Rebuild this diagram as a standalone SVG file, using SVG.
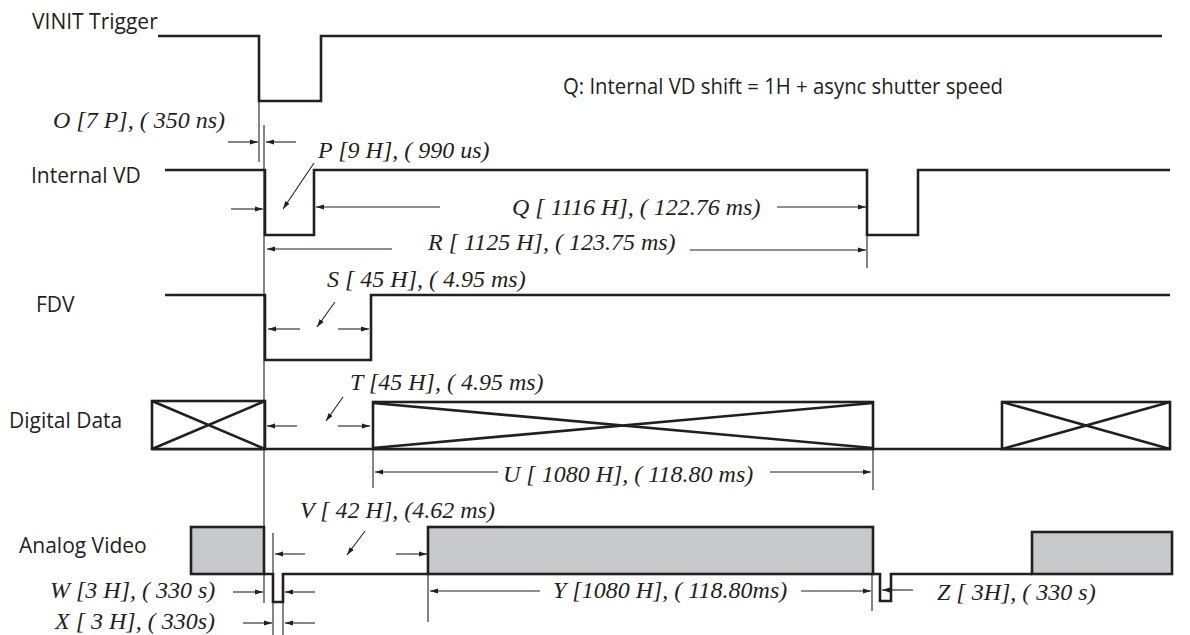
<svg xmlns="http://www.w3.org/2000/svg" width="1190" height="635" viewBox="0 0 1190 635">
<style>
.sig{fill:none;stroke:#231f20;stroke-width:2.6;stroke-linejoin:miter}
.box{fill:#fff;stroke:#231f20;stroke-width:2.6}
.gbox{fill:#c8c9cb;stroke:#231f20;stroke-width:2.6}
.ref{fill:none;stroke:#231f20;stroke-width:1.1}
.arr{fill:none;stroke:#231f20;stroke-width:1.1;marker-end:url(#ah)}
.lbl{font-family:"Open Sans","Noto Sans",sans-serif;font-size:21px;fill:#231f20}
.big{font-family:"Open Sans","Noto Sans",sans-serif;font-size:22.5px;fill:#231f20}
.tm{font-family:"Liberation Serif","Times New Roman",serif;font-style:italic;font-size:24px;fill:#231f20}
</style>
<defs>
<marker id="ah" markerWidth="9" markerHeight="6" refX="8" refY="3" orient="auto" markerUnits="userSpaceOnUse">
<path d="M0,0.5 L8,3 L0,5.5 z" fill="#231f20"/>
</marker>
</defs>

<g id="vinit">
<text class="lbl" x="32" y="29">VINIT Trigger</text>
<path class="sig" d="M158,36 H259 V101 H321 V36 H1162"/>
</g>
<text class="big" x="563" y="94" textLength="440" lengthAdjust="spacingAndGlyphs">Q: Internal VD shift = 1H + async shutter speed</text>

<g id="internal-vd">
<text class="lbl" x="31" y="183">Internal VD</text>
<path class="sig" d="M165,170 H265 V235 H314 V170 H867 V235 H918 V170 H1170"/>
</g>

<g id="fdv">
<text class="lbl" x="36" y="312">FDV</text>
<path class="sig" d="M165,295 H265 V360 H371 V295 H1170"/>
</g>

<g id="digital-data">
<text class="lbl" x="9" y="428">Digital Data</text>
<path class="sig" d="M152,449 H1170"/>
<rect class="box" x="152" y="401" width="113" height="48"/>
<path class="sig" d="M152,401 L265,449 M152,449 L265,401"/>
<rect class="box" x="373" y="402" width="500" height="47"/>
<path class="sig" d="M373,403 L873,448 M373,448 L873,403"/>
<rect class="box" x="1002" y="402" width="168" height="47"/>
<path class="sig" d="M1002,402 L1170,449 M1002,449 L1170,402"/>
</g>

<g id="analog-video">
<text class="lbl" x="19" y="553">Analog Video</text>
<rect class="gbox" x="191" y="527" width="73" height="47"/>
<path class="sig" d="M264,574 H273 V602 H283 V574 H428"/>
<rect class="gbox" x="428" y="527" width="445" height="47"/>
<path class="sig" d="M873,574 H880 V601 H891 V574 H1032"/>
<rect class="gbox" x="1032" y="532" width="140" height="42"/>
</g>

<g id="connectors">
<path class="ref" d="M259,101 V162 M264,125 V603 M867,235 V268 M373,449 V488 M873,449 V490 M273,533 V635 M283,600 V635 M428,574 V622 M872,574 V611"/>
<path class="arr" d="M228,142 H258"/>
<path class="arr" d="M296,142 H266"/>
<path class="arr" d="M231,209 H263"/>
<path class="arr" d="M314,163 L283,209"/>
<path class="arr" d="M440,207 H316"/>
<path class="arr" d="M777,207 H866"/>
<path class="arr" d="M392,249 H267"/>
<path class="arr" d="M690,250 H866"/>
<path class="arr" d="M300,329 H268"/>
<path class="arr" d="M338,329 H369"/>
<path class="arr" d="M335,302 L317,327"/>
<path class="arr" d="M297,426 H267"/>
<path class="arr" d="M338,426 H370"/>
<path class="arr" d="M343,397 L326,421"/>
<path class="arr" d="M498,472 H375"/>
<path class="arr" d="M770,472 H871"/>
<path class="arr" d="M305,554 H275"/>
<path class="arr" d="M396,554 H427"/>
<path class="arr" d="M365,531 L347,555"/>
<path class="arr" d="M233,592 H263"/>
<path class="arr" d="M315,592 H285"/>
<path class="arr" d="M243,623 H272"/>
<path class="arr" d="M315,623 H285"/>
<path class="arr" d="M540,591 H430"/>
<path class="arr" d="M801,591 H871"/>
<path class="arr" d="M913,590 H882"/>
</g>

<g id="labels">
<text class="tm" x="53" y="128">O [7 P], ( 350 ns)</text>
<text class="tm" x="318" y="158">P [9 H], ( 990 us)</text>
<text class="tm" x="512" y="215">Q [ 1116 H], ( 122.76 ms)</text>
<text class="tm" x="428" y="250">R [ 1125 H], ( 123.75 ms)</text>
<text class="tm" x="327" y="287">S [ 45 H], ( 4.95 ms)</text>
<text class="tm" x="350" y="390">T [45 H], ( 4.95 ms)</text>
<text class="tm" x="503" y="482">U [ 1080 H], ( 118.80 ms)</text>
<text class="tm" x="300" y="518">V [ 42 H], (4.62 ms)</text>
<text class="tm" x="50" y="598">W [3 H], ( 330 s)</text>
<text class="tm" x="55" y="629">X [ 3 H], ( 330s)</text>
<text class="tm" x="553" y="598">Y [1080 H], ( 118.80ms)</text>
<text class="tm" x="937" y="600">Z [ 3H], ( 330 s)</text>
</g>
</svg>
